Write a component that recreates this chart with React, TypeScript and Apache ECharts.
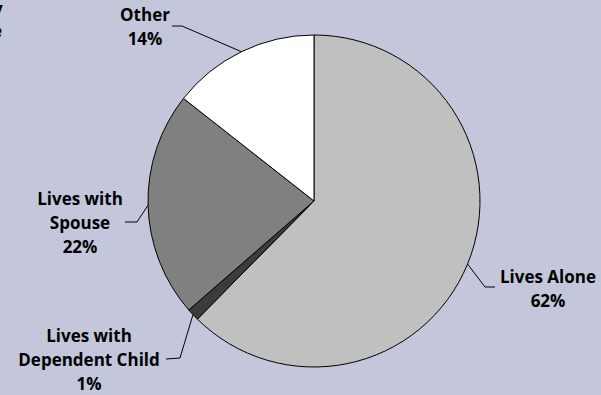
import React, { useEffect, useRef } from "react";
import * as echarts from "echarts";

const categories = ["Lives Alone", "Lives with Dependent Child", "Lives with Spouse", "Other"];
const labelNames = ["Lives Alone", "Lives with\nDependent Child", "Lives with\nSpouse", "Other"];
const values = [62.4, 1.2, 22.0, 14.4];
const colors = ["#C0C0C0", "#3C3C3C", "#808080", "#FFFFFF"];

// label layout (text center, elbow, end of leader line)
const labelLayouts = [
  { x: 548, y: 288, elbow: [485, 287], end: [495, 287] },
  { x: 89, y: 359, elbow: [180, 358], end: [166, 359] },
  { x: 80, y: 222, elbow: [137, 222], end: [125, 222] },
  { x: 145, y: 26, elbow: [182, 26], end: [172, 26] },
];

const FONT = "'Open Sans'";

export default function App() {
  const ref = useRef<HTMLDivElement>(null);
  useEffect(() => {
    if (!ref.current) return;
    const chart = echarts.init(ref.current, null, { renderer: "svg" });
    chart.setOption({
      animation: false,
      backgroundColor: "#C4C7DC",
      textStyle: { fontFamily: FONT },
      graphic: [
        { type: "text", left: -7, top: 0, style: { text: "y", font: "bold 17px " + FONT, fill: "#000" } },
        { type: "text", left: -8, top: 22, style: { text: "e", font: "bold 17px " + FONT, fill: "#000" } },
      ],
      series: [
        {
          type: "pie",
          center: [314, 201],
          radius: [0, 166],
          startAngle: 90,
          clockwise: true,
          avoidLabelOverlap: false,
          data: categories.map((c, i) => ({
            name: c,
            value: values[i],
            itemStyle: { color: colors[i] },
          })),
          itemStyle: { borderColor: "#000", borderWidth: 1 },
          label: {
            show: true,
            position: "outside",
            formatter: (p: any) => labelNames[p.dataIndex] + "\n" + Math.round(p.percent) + "%",
            fontFamily: FONT,
            fontWeight: "bold",
            fontSize: 17,
            lineHeight: 24,
            color: "#000",
            align: "center",
          },
          labelLine: { show: true, lineStyle: { color: "#000", width: 1 } },
          labelLayout: (params: any) => {
            const l = labelLayouts[params.dataIndex];
            const start = params.labelLinePoints ? params.labelLinePoints[0] : l.elbow;
            return {
              x: l.x,
              y: l.y,
              align: "center",
              verticalAlign: "middle",
              labelLinePoints: [start, l.elbow, l.end],
            };
          },
        },
      ],
    });
    return () => chart.dispose();
  }, []);
  return <div ref={ref} style={{ position: "fixed", left: 0, top: 0, width: 601, height: 395 }} />;
}
